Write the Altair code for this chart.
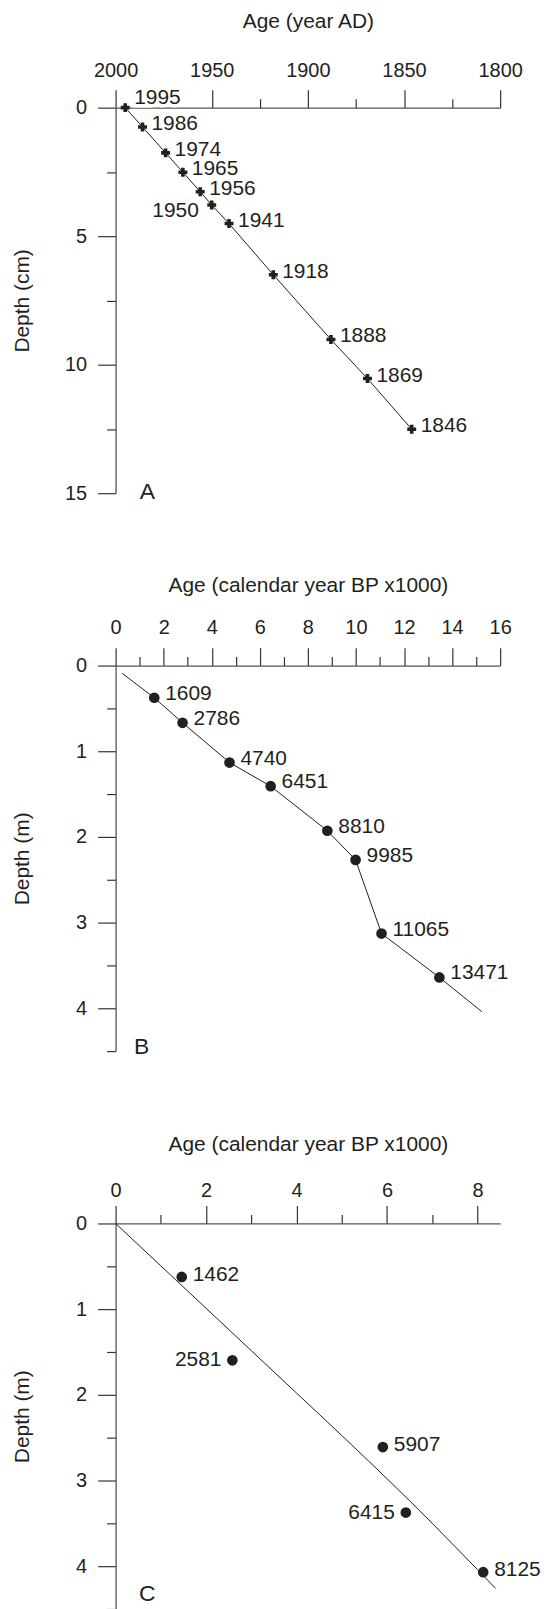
import altair as alt
import pandas as pd

# ---------------- data ----------------
# Panel A : year AD vs depth (cm)
a_year = [1995, 1986, 1974, 1965, 1956, 1950, 1941, 1918, 1888, 1869, 1846]
a_depth = [0.0, 0.75, 1.76, 2.51, 3.27, 3.79, 4.51, 6.5, 9.02, 10.54, 12.51]
a_up = ["1995"]
a_left = ["1950"]
a_ticks = [2000, 1975, 1950, 1925, 1900, 1875, 1850, 1825, 1800]
a_yticks = [0, 2.5, 5, 7.5, 10, 12.5, 15]

# Panel B : calibrated ages (ka BP) vs depth (m)
b_age = [1.609, 2.786, 4.740, 6.451, 8.810, 9.985, 11.065, 13.471]
b_depth = [0.376, 0.668, 1.132, 1.408, 1.928, 2.268, 3.128, 3.640]
b_label = ["1609", "2786", "4740", "6451", "8810", "9985", "11065", "13471"]
b_line_age = [0.26, 1.609, 2.786, 4.740, 6.451, 8.810, 9.985, 11.065, 13.471, 15.24]
b_line_depth = [0.088, 0.376, 0.668, 1.132, 1.408, 1.928, 2.268, 3.128, 3.640, 4.04]
b_ticks = list(range(0, 17))
b_yticks = [0, 0.5, 1, 1.5, 2, 2.5, 3, 3.5, 4, 4.5]

# Panel C : calibrated ages (ka BP) vs depth (m) with age model curve
c_age = [1.462, 2.581, 5.907, 6.415, 8.125]
c_depth = [0.624, 1.597, 2.610, 3.374, 4.070]
c_label = ["1462", "2581", "5907", "6415", "8125"]
c_left = ["2581", "6415"]
c_curve_age = [0.0, 1.0, 2.0, 3.0, 4.0, 5.0, 6.0, 7.0, 7.5, 8.0, 8.4]
c_curve_depth = [0.0, 0.495, 0.99, 1.485, 1.98, 2.475, 2.98, 3.50, 3.77, 4.04, 4.26]
c_ticks = list(range(0, 9))
c_yticks = [0, 0.5, 1, 1.5, 2, 2.5, 3, 3.5, 4, 4.5]

letters = ["A", "B", "C"]
letter_x = [1987.5, 0.77, 0.52]
letter_y = [14.95, 4.45, 4.33]

# ---------------- style ----------------
FONT = "Liberation Sans"
INK = "#231f20"
LBL = 21


def tick_size(test):
    return {"condition": {"test": test, "value": 18}, "value": 9}


def make_x(field, domain, ticks, major, title, title_y, label_pad, fmt, reverse=False):
    return alt.X(
        f"{field}:Q",
        scale=alt.Scale(domain=domain, reverse=reverse, nice=False, zero=False),
        axis=alt.Axis(
            orient="top", values=ticks, title=title, format=fmt,
            labelExpr=f"datum.value % {major} == 0 ? datum.label : ''",
            tickSize=tick_size(f"datum.value % {major} == 0"),
            titleY=title_y, titleBaseline="middle",
            labelPadding=label_pad, labelBaseline="middle", labelFlush=False,
        ),
    )


def make_y(domain, ticks, major, title):
    return alt.Y(
        "depth:Q",
        scale=alt.Scale(domain=domain, reverse=True, nice=False, zero=False),
        axis=alt.Axis(
            orient="left", values=ticks, title=title, format="~g",
            labelExpr=f"datum.value % {major} == 0 ? datum.label : ''",
            tickSize=tick_size(f"datum.value % {major} == 0"),
            titleX=-93, titleBaseline="middle", titleAlign="center",
            labelPadding=11, labelFlush=False,
        ),
    )


def txt(dx, dy, align="left", **kw):
    return dict(align=align, baseline="middle", dx=dx, dy=dy, fontSize=LBL, font=FONT, color=INK, **kw)


# ---------------- panel A ----------------
dfA = pd.DataFrame({"x": a_year, "depth": a_depth, "label": [str(v) for v in a_year]})
xA = make_x("x", [1800, 2000], a_ticks, 50, "Age (year AD)", -86, 19, "d", reverse=True)
yA = make_y([0, 15], a_yticks, 5, "Depth (cm)")
baseA = alt.Chart(dfA)
lineA = baseA.mark_line(color=INK, strokeWidth=1).encode(x=xA, y=yA, order="depth:Q")
ptsA = baseA.mark_point(shape="cross", filled=True, size=80, color=INK, opacity=1).encode(x=xA, y=yA)
txtA = baseA.mark_text(**txt(9, -3)).encode(x=xA, y=yA, text="label:N").transform_filter(
    ~alt.FieldOneOfPredicate(field="label", oneOf=a_up + a_left))
haloAup = baseA.mark_text(**txt(9, -10, stroke="white", strokeWidth=7)).encode(
    x=xA, y=yA, text="label:N").transform_filter(alt.FieldOneOfPredicate(field="label", oneOf=a_up))
txtAup = baseA.mark_text(**txt(9, -10)).encode(x=xA, y=yA, text="label:N").transform_filter(
    alt.FieldOneOfPredicate(field="label", oneOf=a_up))
txtAleft = baseA.mark_text(**txt(-13, 6, align="right")).encode(x=xA, y=yA, text="label:N").transform_filter(
    alt.FieldOneOfPredicate(field="label", oneOf=a_left))
letA = alt.Chart(pd.DataFrame({"x": [letter_x[0]], "depth": [letter_y[0]], "t": [letters[0]]})).mark_text(
    align="left", baseline="middle", fontSize=23, font=FONT, color=INK).encode(x=xA, y=yA, text="t:N")
panelA = alt.layer(haloAup, lineA, ptsA, txtA, txtAup, txtAleft, letA).properties(width=386, height=387)

# ---------------- panel B ----------------
dfB = pd.DataFrame({"x": b_age, "depth": b_depth, "label": b_label})
dfBl = pd.DataFrame({"x": b_line_age, "depth": b_line_depth})
xB = make_x("x", [0, 16], b_ticks, 2, "Age (calendar year BP x1000)", -80, 20, "~g")
yB = make_y([0, 4.5], b_yticks, 1, "Depth (m)")
lineB = alt.Chart(dfBl).mark_line(color=INK, strokeWidth=1).encode(x=xB, y=yB, order="depth:Q")
ptsB = alt.Chart(dfB).mark_circle(size=115, color=INK, opacity=1).encode(x=xB, y=yB)
txtB = alt.Chart(dfB).mark_text(**txt(11, -4)).encode(x=xB, y=yB, text="label:N")
letB = alt.Chart(pd.DataFrame({"x": [letter_x[1]], "depth": [letter_y[1]], "t": [letters[1]]})).mark_text(
    align="left", baseline="middle", fontSize=23, font=FONT, color=INK).encode(x=xB, y=yB, text="t:N")
panelB = alt.layer(lineB, ptsB, txtB, letB).properties(width=386, height=387)

# ---------------- panel C ----------------
dfC = pd.DataFrame({"x": c_age, "depth": c_depth, "label": c_label})
dfCl = pd.DataFrame({"x": c_curve_age, "depth": c_curve_depth})
xC = make_x("x", [0, 8.5], c_ticks, 2, "Age (calendar year BP x1000)", -79, 15, "~g")
yC = make_y([0, 4.5], c_yticks, 1, "Depth (m)")
lineC = alt.Chart(dfCl).mark_line(color=INK, strokeWidth=1, interpolate="monotone").encode(x=xC, y=yC, order="x:Q")
ptsC = alt.Chart(dfC).mark_circle(size=115, color=INK, opacity=1).encode(x=xC, y=yC)
txtC = alt.Chart(dfC).mark_text(**txt(11, -2)).encode(x=xC, y=yC, text="label:N").transform_filter(
    ~alt.FieldOneOfPredicate(field="label", oneOf=c_left))
txtCl = alt.Chart(dfC).mark_text(**txt(-11, 0, align="right")).encode(x=xC, y=yC, text="label:N").transform_filter(
    alt.FieldOneOfPredicate(field="label", oneOf=c_left))
letC = alt.Chart(pd.DataFrame({"x": [letter_x[2]], "depth": [letter_y[2]], "t": [letters[2]]})).mark_text(
    align="left", baseline="middle", fontSize=23, font=FONT, color=INK).encode(x=xC, y=yC, text="t:N")
panelC = alt.layer(lineC, ptsC, txtC, txtCl, letC).properties(width=386, height=387)

chart = alt.vconcat(panelA, alt.vconcat(panelB, panelC, spacing=73), spacing=71).properties(
    padding={"left": 4, "top": 0, "right": 0, "bottom": 0}
).configure_view(stroke=None).configure_axis(
    grid=False,
    labelFont=FONT, labelFontSize=20, labelColor=INK,
    titleFont=FONT, titleFontSize=21, titleFontWeight="normal", titleColor=INK,
    domainColor="#555555", domainWidth=1.3, tickColor="#333333", tickWidth=1.2,
    labelOverlap=False,
)

chart.save("out.html", embed_options={"renderer": "svg", "actions": False})
